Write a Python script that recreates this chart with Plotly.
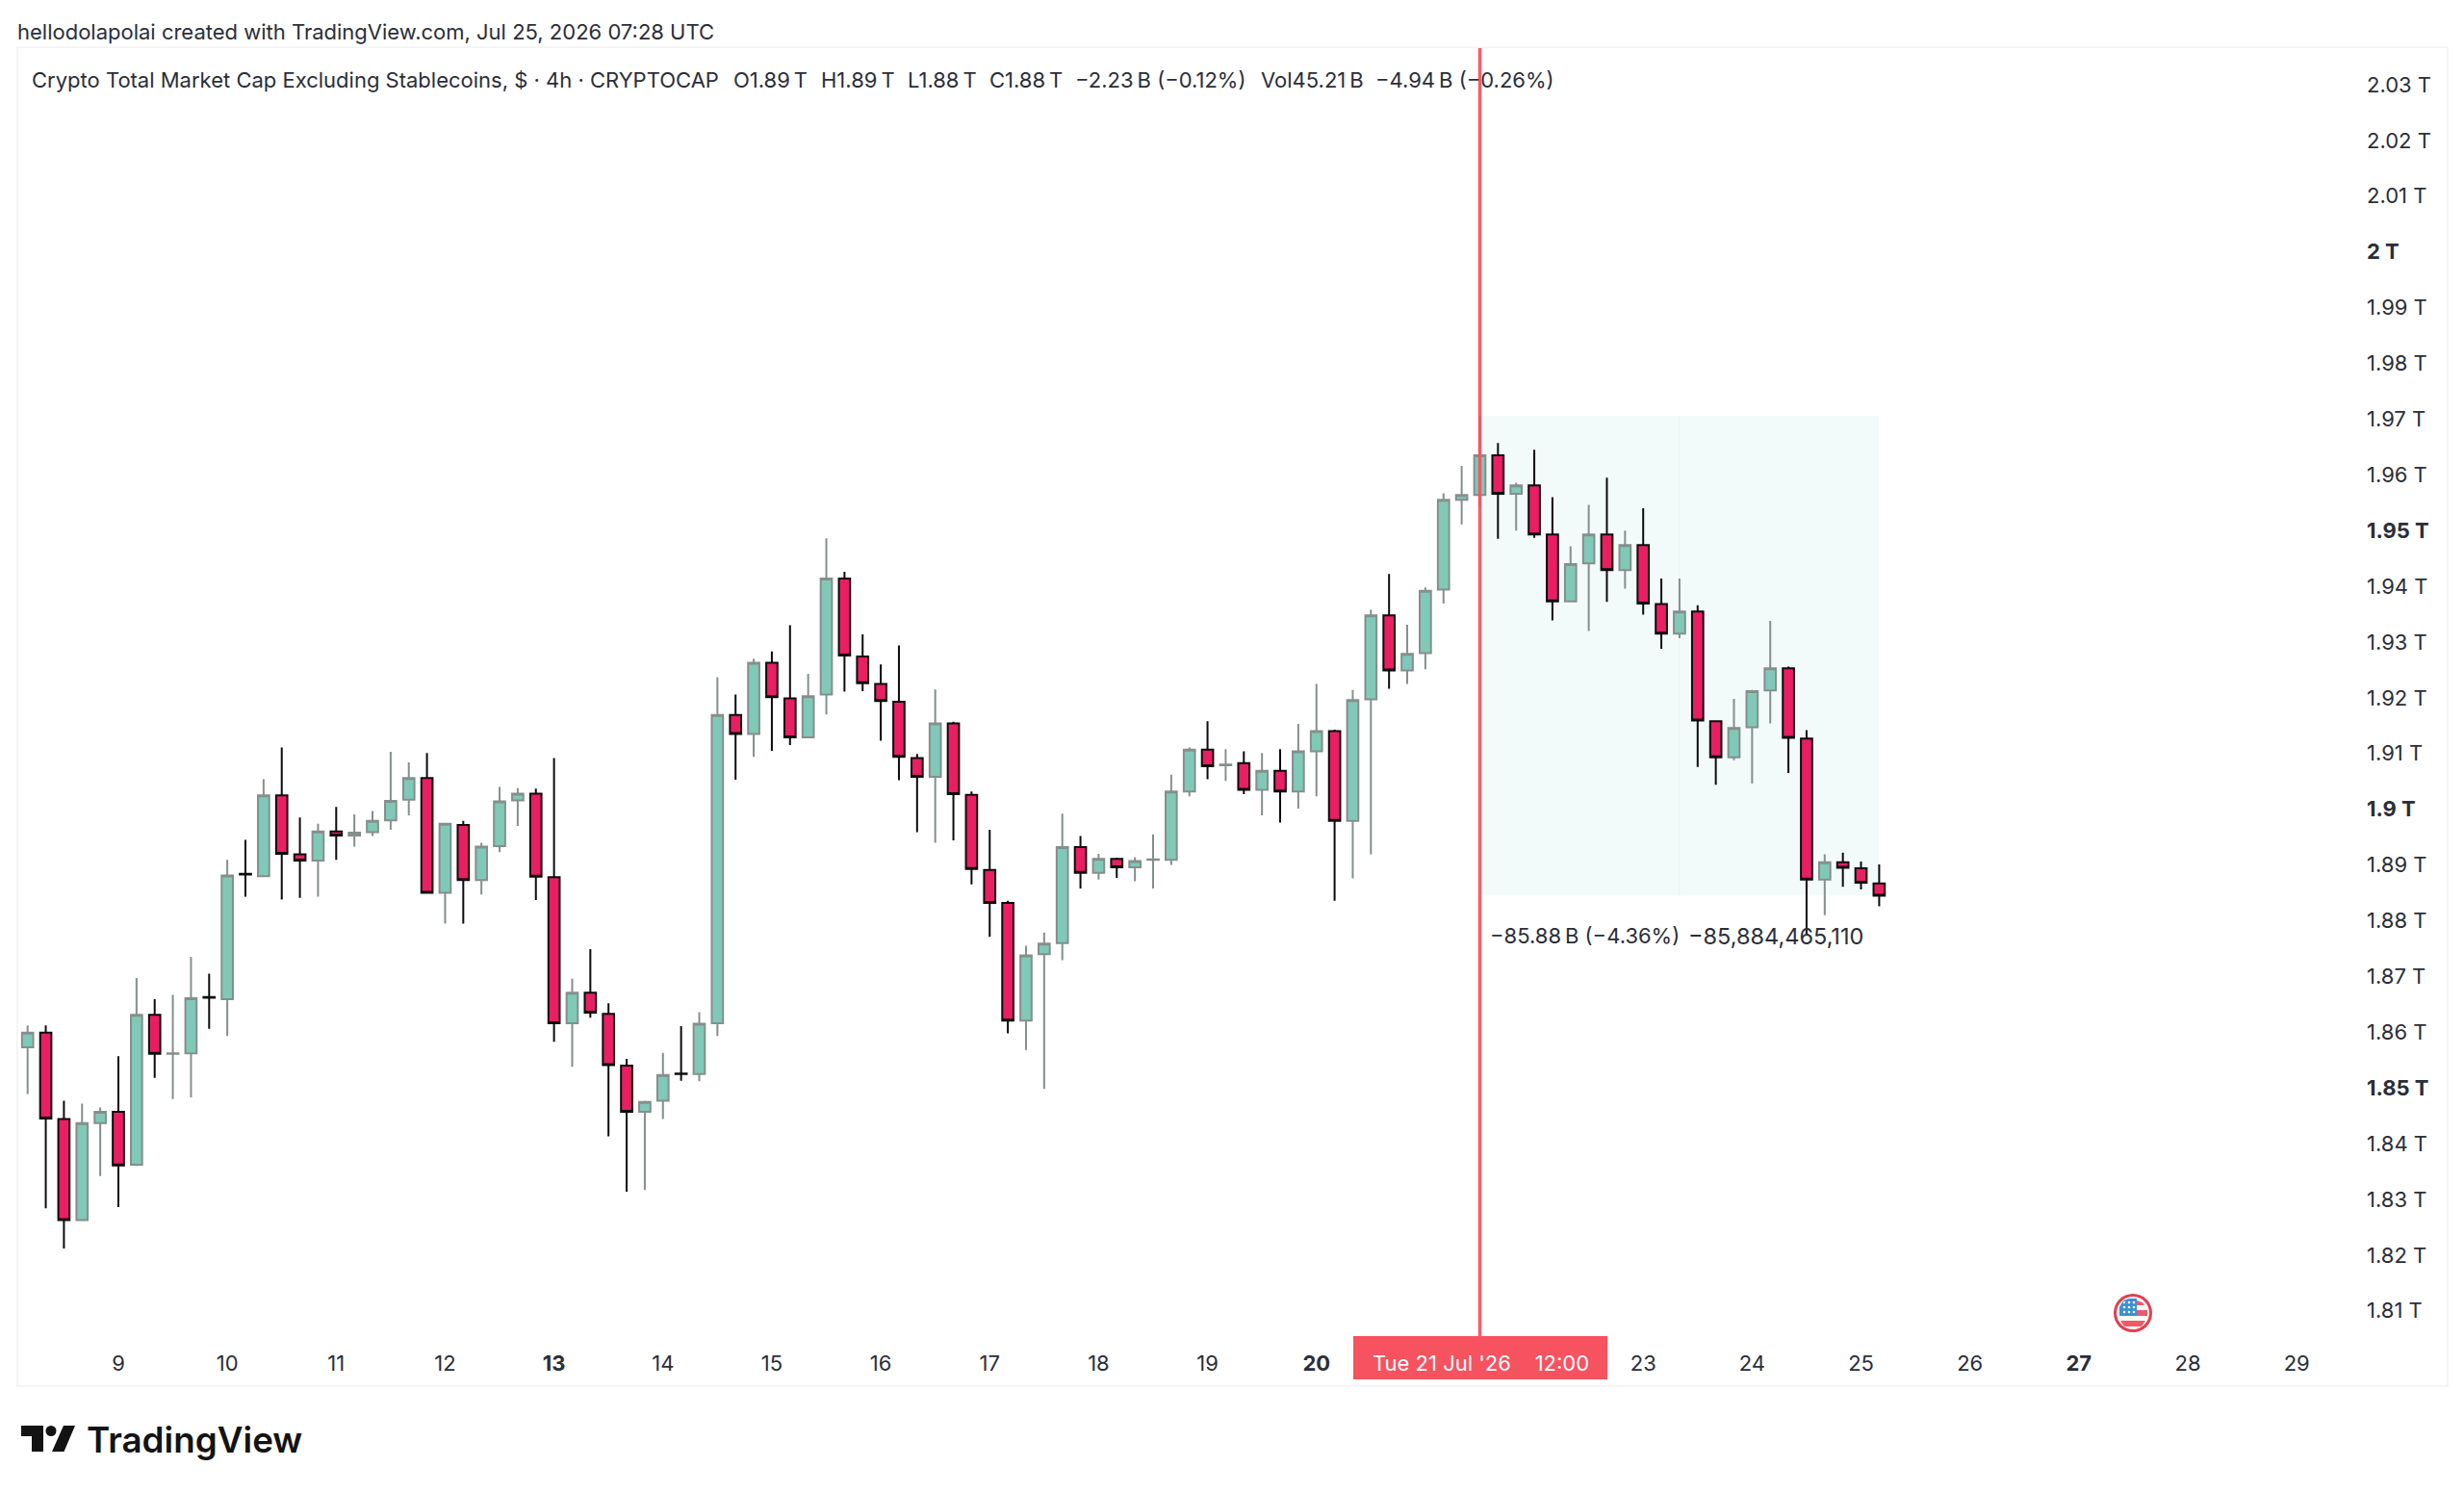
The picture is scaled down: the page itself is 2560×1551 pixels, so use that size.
import plotly.graph_objects as go
import pandas as pd

# 4h candles, values in trillions
opens = [1.8573, 1.8599, 1.8444, 1.8263, 1.8437, 1.8457, 1.8362, 1.8631, 1.8561, 1.8562, 1.8663, 1.8659, 1.8884,
         1.8880, 1.9025, 1.8919, 1.8908, 1.8960, 1.8953, 1.8959, 1.8980, 1.9017, 1.9056, 1.8850, 1.8972, 1.8873,
         1.8934, 1.9016, 1.9028, 1.8878, 1.8616, 1.8671, 1.8633, 1.8540, 1.8457, 1.8477, 1.8526, 1.8525, 1.8616,
         1.9169, 1.9135, 1.9263, 1.9199, 1.9129, 1.9206, 1.9414, 1.9274, 1.9225, 1.9193, 1.9092, 1.9058, 1.9154,
         1.9026, 1.8891, 1.8832, 1.8621, 1.8740, 1.8760, 1.8932, 1.8886, 1.8911, 1.8896, 1.8909, 1.8909, 1.9032,
         1.9107, 1.9079, 1.9083, 1.9035, 1.9069, 1.9032, 1.9104, 1.9140, 1.8979, 1.9197, 1.9348, 1.9249, 1.9280,
         1.9394, 1.9555, 1.9564, 1.9635, 1.9566, 1.9581, 1.9493, 1.9373, 1.9441, 1.9493, 1.9429, 1.9474, 1.9368,
         1.9315, 1.9355, 1.9158, 1.9093, 1.9147, 1.9213, 1.9253, 1.9127, 1.8874, 1.8905, 1.8894, 1.8867]
highs = [1.8612, 1.8612, 1.8477, 1.8472, 1.8465, 1.8557, 1.8697, 1.8659, 1.8667, 1.8735, 1.8705, 1.8909, 1.8945,
         1.9054, 1.9111, 1.8985, 1.8974, 1.9004, 1.8991, 1.8997, 1.9103, 1.9084, 1.9101, 1.8974, 1.8979, 1.8940,
         1.9040, 1.9038, 1.9037, 1.9092, 1.8696, 1.8749, 1.8652, 1.8552, 1.8477, 1.8563, 1.8611, 1.8636, 1.9237,
         1.9206, 1.9270, 1.9283, 1.9330, 1.9243, 1.9486, 1.9426, 1.9314, 1.9260, 1.9294, 1.9099, 1.9215, 1.9157,
         1.9032, 1.8963, 1.8836, 1.8755, 1.8779, 1.8992, 1.8952, 1.8920, 1.8913, 1.8914, 1.8955, 1.9062, 1.9111,
         1.9158, 1.9108, 1.9104, 1.9101, 1.9108, 1.9153, 1.9225, 1.9143, 1.9214, 1.9358, 1.9422, 1.9331, 1.9398,
         1.9567, 1.9616, 1.9706, 1.9657, 1.9586, 1.9645, 1.9560, 1.9472, 1.9546, 1.9595, 1.9500, 1.9540, 1.9414,
         1.9414, 1.9366, 1.9158, 1.9198, 1.9214, 1.9338, 1.9256, 1.9142, 1.8919, 1.8922, 1.8906, 1.8901]
lows = [1.8489, 1.8284, 1.8212, 1.8262, 1.8342, 1.8286, 1.8360, 1.8518, 1.8480, 1.8483, 1.8606, 1.8593, 1.8843,
        1.8879, 1.8838, 1.8841, 1.8843, 1.8909, 1.8933, 1.8952, 1.8963, 1.8989, 1.8850, 1.8795, 1.8795, 1.8847,
        1.8923, 1.8970, 1.8837, 1.8583, 1.8538, 1.8626, 1.8413, 1.8314, 1.8317, 1.8444, 1.8513, 1.8512, 1.8593,
        1.9053, 1.9094, 1.9105, 1.9115, 1.9128, 1.9170, 1.9211, 1.9212, 1.9123, 1.9052, 1.8959, 1.8940, 1.8944,
        1.8865, 1.8771, 1.8598, 1.8568, 1.8498, 1.8729, 1.8858, 1.8874, 1.8877, 1.8871, 1.8858, 1.8900, 1.9023,
        1.9054, 1.9051, 1.9027, 1.8989, 1.8976, 1.9001, 1.9023, 1.8836, 1.8876, 1.8919, 1.9216, 1.9225, 1.9251,
        1.9369, 1.9511, 1.9544, 1.9485, 1.9500, 1.9487, 1.9339, 1.9372, 1.9320, 1.9372, 1.9396, 1.9349, 1.9288,
        1.9307, 1.9076, 1.9044, 1.9088, 1.9046, 1.9154, 1.9065, 1.8775, 1.8810, 1.8861, 1.8856, 1.8826]
closes = [1.8599, 1.8445, 1.8263, 1.8437, 1.8457, 1.8361, 1.8631, 1.8561, 1.8562, 1.8661, 1.8662, 1.8881, 1.8883,
          1.9025, 1.8920, 1.8908, 1.8960, 1.8953, 1.8958, 1.8979, 1.9015, 1.9056, 1.8850, 1.8974, 1.8873, 1.8933,
          1.9014, 1.9028, 1.8879, 1.8616, 1.8671, 1.8635, 1.8541, 1.8457, 1.8475, 1.8523, 1.8525, 1.8615, 1.9169,
          1.9135, 1.9263, 1.9201, 1.9129, 1.9203, 1.9414, 1.9276, 1.9226, 1.9194, 1.9094, 1.9058, 1.9154, 1.9027,
          1.8893, 1.8832, 1.8621, 1.8738, 1.8759, 1.8932, 1.8886, 1.8911, 1.8896, 1.8907, 1.8910, 1.9032, 1.9107,
          1.9077, 1.9080, 1.9035, 1.9069, 1.9032, 1.9104, 1.9140, 1.8979, 1.9196, 1.9348, 1.9249, 1.9279, 1.9392,
          1.9555, 1.9564, 1.9635, 1.9566, 1.9581, 1.9493, 1.9373, 1.9440, 1.9493, 1.9429, 1.9474, 1.9369, 1.9315,
          1.9355, 1.9159, 1.9093, 1.9146, 1.9212, 1.9253, 1.9128, 1.8874, 1.8905, 1.8895, 1.8868, 1.8845]

price_ticks = [2.03, 2.02, 2.01, 2.0, 1.99, 1.98, 1.97, 1.96, 1.95, 1.94, 1.93, 1.92, 1.91, 1.9, 1.89, 1.88, 1.87,
               1.86, 1.85, 1.84, 1.83, 1.82, 1.81]
price_labels = ['2.03 T', '2.02 T', '2.01 T', '<b>2 T</b>', '1.99 T', '1.98 T', '1.97 T', '1.96 T', '<b>1.95 T</b>',
                '1.94 T', '1.93 T', '1.92 T', '1.91 T', '<b>1.9 T</b>', '1.89 T', '1.88 T', '1.87 T', '1.86 T',
                '<b>1.85 T</b>', '1.84 T', '1.83 T', '1.82 T', '1.81 T']
day_ticks = ['2026-07-09', '2026-07-10', '2026-07-11', '2026-07-12', '2026-07-13', '2026-07-14', '2026-07-15',
             '2026-07-16', '2026-07-17', '2026-07-18', '2026-07-19', '2026-07-20', '2026-07-23', '2026-07-24',
             '2026-07-25', '2026-07-26', '2026-07-27', '2026-07-28', '2026-07-29']
day_labels = ['9', '10', '11', '12', '<b>13</b>', '14', '15', '16', '17', '18', '19', '<b>20</b>', '23', '24', '25',
              '26', '<b>27</b>', '28', '29']

measure_top = 1.97059
measure_bottom = 1.88449

dates = pd.date_range('2026-07-08 04:00', periods=len(opens), freq='4h')

FONT = 'Inter'
TEXT = '#2a2e39'
RED = '#f7525f'

# plot box in page pixels, the page puts the figure 8px in from the corner
LEFT, RIGHT, TOP, BOTTOM = 18, 2455, 50, 1400
PAGE = 8


def fx(px):
    return (px - LEFT) / (RIGHT - LEFT)


def fy(px):
    return (BOTTOM - px) / (BOTTOM - TOP)


def label(fig, x, y, text, size=22, color=TEXT, anchor='left', **font):
    fig.add_annotation(xref='paper', yref='paper', x=fx(x), y=fy(y), text=text, showarrow=False,
                       xanchor=anchor, yanchor='middle', borderpad=0, borderwidth=0,
                       font=dict(family=FONT, size=size, color=color, **font))


def box(fig, x0, y0, x1, y1, **kw):
    fig.add_shape(type='rect', xref='paper', yref='paper', x0=fx(x0), x1=fx(x1), y0=fy(y0), y1=fy(y1), **kw)


def disc(fig, x, y, r, color):
    fig.add_shape(type='circle', xref='paper', yref='paper', x0=fx(x - r), x1=fx(x + r), y0=fy(y + r), y1=fy(y - r),
                  fillcolor=color, line_width=0)


def poly(fig, points, color):
    path = 'M ' + ' L '.join('{0} {1}'.format(fx(a), fy(b)) for a, b in points) + ' Z'
    fig.add_shape(type='path', xref='paper', yref='paper', path=path, fillcolor=color, line_width=0)


fig = go.Figure(go.Candlestick(x=dates, open=opens, high=highs, low=lows, close=closes,
                               increasing=dict(fillcolor='#80c9b8', line=dict(color='#858f8c', width=2)),
                               decreasing=dict(fillcolor='#e91e63', line=dict(color='#0c0c0c', width=2)),
                               whiskerwidth=0, showlegend=False))

# measure tool band
fig.add_shape(type='rect', xref='x', yref='y', x0=dates[80], x1=dates[102], y0=measure_bottom, y1=measure_top,
              fillcolor='#f2fbf9', line_width=0, layer='below')
fig.add_shape(type='line', xref='x', yref='y', x0=dates[91], x1=dates[91], y0=measure_bottom, y1=measure_top,
              line=dict(color='#e9f3f1', width=1), layer='below')

# pane outline
box(fig, 18, 49, 2543, 1440, line=dict(color='#f1f2f3', width=1.5), layer='below')

# crosshair line and its date tag
fig.add_shape(type='line', xref='x', yref='paper', x0=dates[80], x1=dates[80], y0=fy(1388), y1=fy(50),
              line=dict(color=RED, width=3.5), opacity=0.92)
box(fig, 1406, 1388, 1670, 1433, fillcolor=RED, line_width=0)
label(fig, 1538, 1416, "Tue 21 Jul '26 \u00a0 \u00a012:00", color='#ffffff', anchor='center')

# header lines
label(fig, 18, 33, 'hellodolapolai created with TradingView.com, Jul 25, 2026 07:28 UTC')
label(fig, 33, 83, 'Crypto Total Market Cap Excluding Stablecoins, $ \u00b7 4h \u00b7 CRYPTOCAP')
label(fig, 762, 83, 'O1.89\u2009T')
label(fig, 853, 83, 'H1.89\u2009T')
label(fig, 943, 83, 'L1.88\u2009T')
label(fig, 1028, 83, 'C1.88\u2009T')
label(fig, 1117, 83, '\u22122.23\u2009B (\u22120.12%)')
label(fig, 1310, 83, 'Vol45.21\u2009B')
label(fig, 1429, 83, '\u22124.94\u2009B (\u22120.26%)')

label(fig, 1548, 972, '\u221285.88\u2009B (\u22124.36%)')
label(fig, 1754, 972, '\u221285,884,465,110', size=23.5)

# economic event flag
disc(fig, 2216, 1364, 20, '#e0404f')
disc(fig, 2216, 1364, 17, '#ffffff')
poly(fig, [(2206, 1351), (2212, 1349), (2220, 1349), (2220, 1367), (2202, 1367), (2202, 1358)], '#3d8fd6')
poly(fig, [(2220, 1351), (2226, 1353), (2228, 1356), (2220, 1356)], '#ef5a68')
poly(fig, [(2220, 1361), (2231, 1361), (2231, 1367), (2220, 1367)], '#ef5a68')
poly(fig, [(2203, 1372), (2229, 1372), (2225, 1378), (2207, 1378)], '#ef5a68')
for row in (1353, 1358, 1363):
    for col in (2207, 2212, 2217):
        disc(fig, col, row, 1.3, '#ffffff')

# TradingView logo
poly(fig, [(22, 1481), (45, 1481), (45, 1508), (33, 1508), (33, 1492), (22, 1492)], '#131313')
disc(fig, 53, 1486.5, 5.5, '#131313')
poly(fig, [(66, 1481), (78, 1481), (66.5, 1508), (54, 1508)], '#131313')
label(fig, 90, 1495, 'TradingView', size=36.8, color='#131313', weight=600)

fig.update_xaxes(range=['2026-07-08 01:44', '2026-07-29 14:36'], rangeslider_visible=False, showgrid=False,
                 zeroline=False, showline=False, tickmode='array', tickvals=day_ticks, ticktext=day_labels,
                 ticks='', tickangle=0, ticklabelstandoff=1, tickfont=dict(family=FONT, size=22, color=TEXT))
fig.update_yaxes(range=[1.8034, 2.03656], side='right', showgrid=False, zeroline=False, showline=False,
                 tickmode='array', tickvals=price_ticks, ticktext=price_labels, ticks='', ticklabelstandoff=3,
                 tickfont=dict(family=FONT, size=22, color=TEXT))
fig.update_layout(width=2544, height=1535, autosize=False, paper_bgcolor='#ffffff', plot_bgcolor='#ffffff',
                  boxgap=0.2, boxgroupgap=0.225, showlegend=False, hovermode=False,
                  margin=dict(l=LEFT - PAGE, r=2544 - (RIGHT - PAGE), t=TOP - PAGE, b=1535 - (BOTTOM - PAGE), pad=0))

fig.write_html("out.html")
